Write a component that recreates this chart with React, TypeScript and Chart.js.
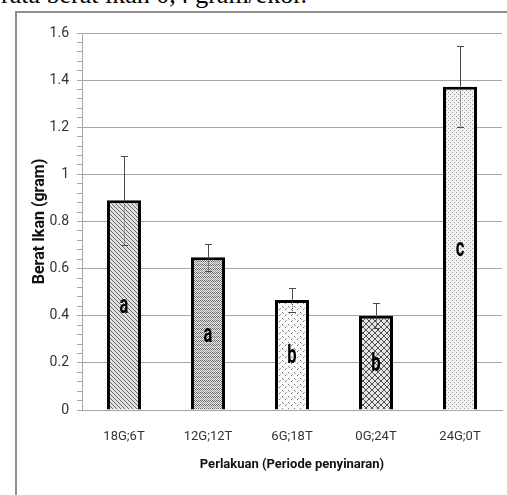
import React, { useEffect, useRef } from 'react';
import { Chart, registerables } from 'chart.js';

Chart.register(...registerables);

const categories = ['18G;6T', '12G;12T', '6G;18T', '0G;24T', '24G;0T'];
const meanWeight = [0.89, 0.648, 0.467, 0.4, 1.372];
const errorValues = [0.19, 0.057, 0.052, 0.052, 0.172];
const letterLabels = ['a', 'a', 'b', 'b', 'c'];
const yAxisTitle = 'Berat Ikan (gram)';
const xAxisTitle = 'Perlakuan (Periode penyinaran)';
const topText = 'rata berat ikan 0,4 gram/ekor.';

const NARROW = "Roboto, 'Liberation Sans', sans-serif";

type Kind = 'diag' | 'zigzag' | 'sparse' | 'diamond' | 'fine';
const patternKinds: Kind[] = ['diag', 'zigzag', 'sparse', 'diamond', 'fine'];

function makePattern(kind: Kind): CanvasPattern | string {
  const c = document.createElement('canvas');
  const n = kind === 'sparse' || kind === 'diamond' ? 6 : 4;
  c.width = n;
  c.height = n;
  const g = c.getContext('2d');
  if (!g) return '#ccc';
  const px = (x: number, y: number, col: string) => {
    g.fillStyle = col;
    g.fillRect(x, y, 1, 1);
  };
  if (kind === 'diag') {
    g.fillStyle = '#e0e0e0';
    g.fillRect(0, 0, n, n);
    for (let i = 0; i < n; i++) {
      px(i, i, '#6a6a6a');
    }
  } else if (kind === 'zigzag') {
    g.fillStyle = '#e8e8e8';
    g.fillRect(0, 0, n, n);
    px(0, 0, '#666'); px(1, 1, '#666'); px(2, 0, '#666'); px(3, 1, '#666');
    px(0, 2, '#999'); px(1, 3, '#999'); px(2, 2, '#999'); px(3, 3, '#999');
  } else if (kind === 'sparse') {
    g.fillStyle = '#fbfbfb';
    g.fillRect(0, 0, n, n);
    px(0, 0, '#777'); px(1, 1, '#aaa'); px(3, 3, '#777'); px(4, 2, '#aaa');
  } else if (kind === 'diamond') {
    g.fillStyle = '#e6e6e6';
    g.fillRect(0, 0, n, n);
    for (let i = 0; i < n; i++) {
      px(i, i, '#505050');
      px(n - 1 - i, i, '#505050');
    }
  } else {
    g.fillStyle = '#f3f3f3';
    g.fillRect(0, 0, n, n);
    px(0, 0, '#999'); px(2, 2, '#999');
  }
  const p = g.createPattern(c, 'repeat');
  return p || '#ccc';
}

const isMajor = (v: number) => Math.abs(v * 5 - Math.round(v * 5)) < 1e-6;

const errorBarPlugin = {
  id: 'errorBars',
  afterDatasetsDraw(chart: any) {
    const meta = chart.getDatasetMeta(0);
    const ys = chart.scales.y;
    const ctx = chart.ctx;
    ctx.save();
    ctx.strokeStyle = '#4a4a4a';
    ctx.lineWidth = 1;
    meta.data.forEach((bar: any, i: number) => {
      const x = Math.round(bar.x) + 0.5;
      const top = Math.round(ys.getPixelForValue(meanWeight[i] + errorValues[i])) + 0.5;
      const bot = Math.round(ys.getPixelForValue(meanWeight[i] - errorValues[i])) + 0.5;
      const mid = bar.y;
      ctx.setLineDash([]);
      ctx.beginPath();
      ctx.moveTo(x, top);
      ctx.lineTo(x, mid);
      ctx.moveTo(x - 3.5, top);
      ctx.lineTo(x + 3.5, top);
      ctx.moveTo(x - 3.5, bot);
      ctx.lineTo(x + 3.5, bot);
      ctx.stroke();
      ctx.setLineDash([1, 1]);
      ctx.beginPath();
      ctx.moveTo(x, mid);
      ctx.lineTo(x, bot);
      ctx.stroke();
    });
    ctx.setLineDash([]);
    // letters
    ctx.fillStyle = '#000';
    ctx.font = `bold 25px ${NARROW}`;
    ctx.textAlign = 'center';
    ctx.textBaseline = 'middle';
    meta.data.forEach((bar: any, i: number) => {
      ctx.save();
      ctx.translate(bar.x, (bar.y + bar.base) / 2 + 2);
      ctx.scale(0.66, 1);
      ctx.fillText(letterLabels[i], 0, 0);
      ctx.restore();
    });
    ctx.restore();
  },
};

export default function App() {
  const ref = useRef<HTMLCanvasElement | null>(null);
  useEffect(() => {
    if (!ref.current) return;
    const chart = new Chart(ref.current, {
      type: 'bar',
      data: {
        labels: categories,
        datasets: [
          {
            data: meanWeight,
            backgroundColor: patternKinds.map(makePattern) as any,
            borderColor: '#000',
            borderWidth: 3,
            barPercentage: 0.405,
            categoryPercentage: 1,
          },
        ],
      },
      options: {
        animation: false,
        responsive: false,
        events: [],
        layout: { padding: { left: 27, right: 5, top: 33, bottom: 18 } },
        plugins: {
          legend: { display: false },
          tooltip: { enabled: false },
        },
        scales: {
          x: {
            grid: { display: false, drawTicks: false },
            border: { display: true, color: '#a6a6a6', width: 1 },
            ticks: {
              color: '#333',
              font: { family: NARROW, size: 13 },
              padding: 19,
              maxRotation: 0,
            },
            title: {
              display: true,
              text: xAxisTitle,
              color: '#111',
              font: { family: NARROW, size: 13, weight: 'bold' },
              padding: { top: 4, bottom: 4 },
            },
            afterFit(scale: any) {
              scale.height = 67;
            },
          },
          y: {
            min: 0,
            max: 1.6,
            grid: {
              color: (c: any) => (c.tick && isMajor(c.tick.value) ? '#a6a6a6' : 'rgba(0,0,0,0)'),
              tickColor: '#a6a6a6',
              tickLength: 5,
              lineWidth: 1,
            },
            border: { display: true, color: '#a6a6a6', width: 1 },
            ticks: {
              stepSize: 0.04,
              autoSkip: false,
              color: '#333',
              padding: 8,
              font: { family: NARROW, size: 14 },
              callback: (v: any) => (isMajor(Number(v)) ? String(Math.round(Number(v) * 10) / 10) : ''),
            },
            title: {
              display: true,
              text: yAxisTitle,
              color: '#111',
              font: { family: NARROW, size: 16, weight: 'bold' },
              padding: { top: 3, bottom: 3 },
            },
            afterFit(scale: any) {
              scale.width = 55;
            },
          },
        },
      },
      plugins: [errorBarPlugin],
    });
    return () => chart.destroy();
  }, []);

  return (
    <div style={{ position: 'fixed', left: 0, top: 0, width: 507, height: 495, overflow: 'hidden', background: '#fff' }}>
      <div
        style={{
          position: 'absolute',
          left: 1,
          top: -18,
          fontFamily: "'Liberation Serif', 'DejaVu Serif', serif",
          fontSize: 26,
          lineHeight: 1,
          whiteSpace: 'nowrap',
          color: '#000',
        }}
      >
        {topText}
      </div>
      <div
        style={{
          position: 'absolute',
          left: 15,
          top: 11,
          width: 520,
          height: 500,
          borderLeft: '2px solid #8f8f8f',
          borderTop: '2px solid #8f8f8f',
          boxSizing: 'border-box',
        }}
      />
      <canvas ref={ref} width={507} height={495} style={{ position: 'absolute', left: 0, top: 0 }} />
    </div>
  );
}
